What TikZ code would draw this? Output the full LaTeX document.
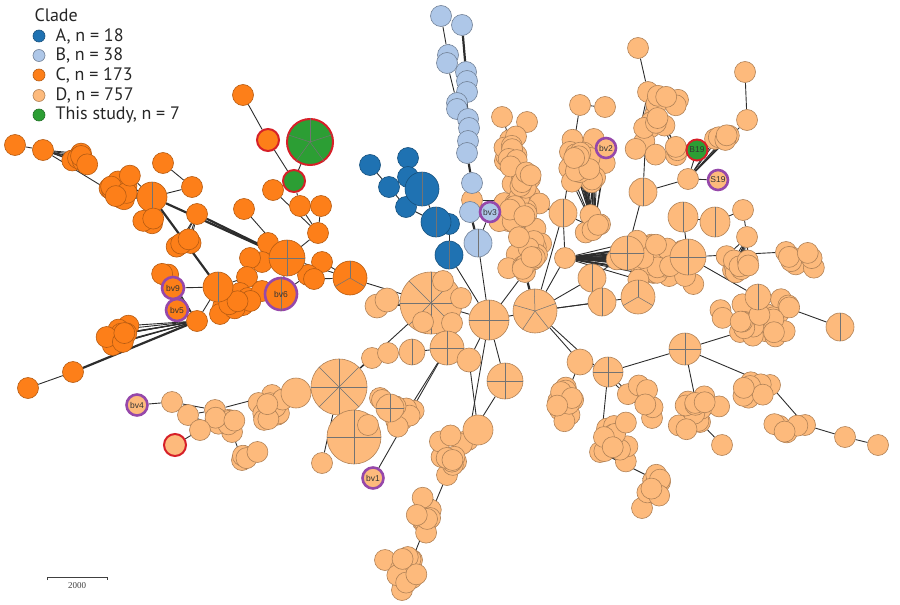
\documentclass[tikz,border=0pt]{standalone}
\usepackage{fontspec}
\setmainfont{PT Sans}
\newfontfamily\lblfont{Liberation Sans}
\newfontfamily\barfont{Liberation Serif}
\pgfdeclarelayer{bg}
\pgfsetlayers{bg,main}
\definecolor{cA}{RGB}{31,114,178}
\definecolor{cB}{RGB}{174,199,232}
\definecolor{cC}{RGB}{253,127,25}
\definecolor{cD}{RGB}{253,186,124}
\definecolor{cG}{RGB}{44,158,52}
\definecolor{cR}{RGB}{214,32,40}
\definecolor{cP}{RGB}{150,72,170}
\definecolor{edgec}{RGB}{45,45,45}
\tikzset{
  nd/.style={circle,inner sep=0pt,line width=0.6pt,minimum size={2*#1*1pt}},
  nd/.default=10.5,
  A/.style={nd=#1,fill=cA,draw=cA!70!black},A/.default=10.5,
  B/.style={nd=#1,fill=cB,draw=cB!65!black},B/.default=10.5,
  C/.style={nd=#1,fill=cC,draw=cC!72!black},C/.default=10.5,
  D/.style={nd=#1,fill=cD,draw=cD!70!black},D/.default=10.5,
  G/.style={nd=#1,fill=cG,draw=cG!70!black},G/.default=10.5,
  ring/.style={draw=cP,line width=2.6pt},
  redring/.style={draw=cR,line width=2pt},
  lbl/.style={font=\lblfont\fontsize{8.5}{9}\selectfont,text=black!80},
  edge/.style={draw=edgec,line width=0.9pt},
  tedge/.style={draw=edgec,line width=2.2pt},
  wedge/.style={draw=black!55,line width=0.5pt},
  legtext/.style={anchor=west,font=\fontsize{18}{18}\selectfont,text=black!85},
}
\newcommand\wedges[3]{%
  \foreach \k in {1,...,#2}{\pgfmathtruncatemacro\ang{#3+360*\k/#2}%
    \draw[wedge] (#1.center) -- (#1.\ang);}}
\newcommand\blob[9]{% style, prefix, cx, cy, sx, sy, angle, n, link
  \foreach \i in {1,...,#8}{%
    \pgfmathsetmacro\bu{#5*(rand+rand)/2}%
    \pgfmathsetmacro\bv{#6*(rand+rand)/2}%
    \pgfmathsetmacro\px{#3+\bu*cos(#7)-\bv*sin(#7)}%
    \pgfmathsetmacro\py{#4+\bu*sin(#7)+\bv*cos(#7)}%
    \node[#1] (#2\i) at (\px,\py) {};
  }
  \begin{pgfonlayer}{bg}
  \foreach \i in {1,...,#8}{\draw[edge] (#2\i) -- (#9);}
  \end{pgfonlayer}}
\begin{document}
\begin{tikzpicture}[x=1pt,y=-1pt]
\useasboundingbox (0,0) rectangle (900,605);
\pgfmathsetseed{4242}

% ---------- D root nodes ----------
\foreach \n/\x/\y in {u1/565/258,u4/594/228,u6/525/272,
  u7/520/200,u8/510/140,u9/502/117,u9b/527/122,u10/605/107,u11/580/105,u12/638/48,u13/648/92,
  u15/688/179,u16/745/72,u17/747/120,u18/743/210,u18b/747/237,u19/786/252,
  u21/740/332,u22/845/437,u23/878/445,u24/805/425,u25/722/445,u26/660/482,u27/642/508,
  u28/600/452,u29/560/410,u30/468/440,u32/428/520,u33/412/560,u34/402/590,
  u35/385/560,u36/322/463,u37/402/420,u38/380/398,u39/242/460,u40/272/395,u41/215/410,
  u42/232/432,u43/700/422,u44/652/418,u45/770/385}
  {\node[D] (\n) at (\x,\y) {};}
\node[D] (u31) at (447,475) {};

% ---------- D blobs ----------
\blob{D}{bA}{510}{150}{14}{25}{0}{10}{u8}
\blob{D}{bB}{522}{200}{26}{40}{0}{30}{u7}
\blob{D}{bC}{527}{255}{22}{20}{0}{14}{u6}
\blob{D}{bD}{584}{158}{24}{28}{0}{24}{u4}
\blob{D}{bE}{595}{225}{12}{12}{0}{5}{u4}
\blob{D}{bF}{655}{132}{30}{40}{0}{18}{u13}
\blob{D}{bG}{725}{140}{15}{12}{0}{5}{u15}
\blob{D}{bM}{660}{258}{50}{28}{0}{34}{u1}
\blob{D}{bK}{742}{266}{25}{12}{0}{9}{u18b}
\blob{D}{bL}{798}{262}{18}{14}{0}{7}{u19}
\blob{D}{bN}{772}{318}{66}{25}{0}{24}{u21}
\blob{D}{bP}{565}{402}{13}{26}{0}{11}{u29}
\blob{D}{bQ}{612}{442}{20}{26}{0}{13}{u28}
\blob{D}{bR}{650}{490}{15}{18}{0}{7}{u26}
\blob{D}{bS}{702}{410}{26}{24}{0}{13}{u43}
\blob{D}{bT}{748}{395}{22}{18}{0}{8}{u45}
\blob{D}{bU}{785}{425}{18}{12}{0}{5}{u24}
\blob{D}{bV}{452}{455}{14}{24}{0}{11}{u30}
\blob{D}{bW}{427}{512}{11}{26}{0}{9}{u32}
\blob{D}{bX}{408}{568}{13}{18}{0}{9}{u33}
\blob{D}{bY}{405}{410}{14}{18}{0}{8}{u37}
\blob{D}{bZ}{268}{410}{24}{17}{0}{13}{u40}
\blob{D}{b3}{225}{418}{16}{11}{0}{8}{u41}
\blob{D}{b4}{247}{455}{11}{8}{0}{4}{u39}
\blob{D}{b5}{640}{395}{15}{15}{0}{6}{u44}

% ---------- D hubs ----------
\node[D=31] (h1) at (431,303) {}; \wedges{h1}{8}{0}
\node[D] (i1) at (443,281) {};
\node[D] (i2) at (461,298) {};
\node[D] (i3) at (423,322) {};
\node[D] (i4) at (452,323) {};
\node[D=12] (h10b) at (377,306) {};
\node[D=12] (h10) at (387,300) {};
\node[D=20] (h2) at (489,320) {}; \wedges{h2}{4}{0}
\node[D=22] (h3) at (535,311) {}; \wedges{h3}{5}{20}
\node[D=14] (p1) at (592,278) {}; \wedges{p1}{2}{90}
\node[D=14] (p2) at (602,302) {}; \wedges{p2}{2}{90}
\node[D=17] (p3) at (638,297) {}; \wedges{p3}{3}{90}
\node[D=17] (p4) at (627,253) {}; \wedges{p4}{4}{0}
\node[D=18] (p5) at (688,257) {}; \wedges{p5}{4}{0}
\node[D=15] (p6) at (715,222) {}; \wedges{p6}{2}{90}
\node[D=15] (h15) at (683,217) {}; \wedges{h15}{2}{90}
\node[D=14] (p7) at (643,192) {}; \wedges{p7}{2}{90}
\node[D=14] (p8) at (563,213) {}; \wedges{p8}{2}{90}
\node[D=13] (p9) at (758,297) {}; \wedges{p9}{2}{90}
\node[D=14] (p10) at (840,327) {}; \wedges{p10}{2}{90}
\node[D=17] (h4) at (447,348) {}; \wedges{h4}{4}{0}
\node[D=13] (h5) at (412,352) {}; \wedges{h5}{2}{90}
\node[D=12] (h6) at (469,360) {};
\node[D] (z1) at (372,358) {};
\node[D] (z2) at (388,353) {};
\node[D=28] (h7) at (339,387) {}; \wedges{h7}{8}{0}
\node[D=15] (h9) at (296,393) {};
\node[D=27] (h8) at (354,437) {}; \wedges{h8}{4}{0}
\node[D] (h8b) at (368,425) {};
\node[D] (z3) at (382,400) {};
\node[D=14] (z4) at (390,408) {}; \wedges{z4}{4}{0}
\node[D=18] (h11) at (505,381) {}; \wedges{h11}{4}{0}
\node[D=13] (h12) at (580,362) {};
\node[D=15] (h13) at (608,372) {}; \wedges{h13}{4}{0}
\node[D=16] (h14) at (685,349) {}; \wedges{h14}{4}{0}
\node[D=15] (z5) at (478,430) {};
\node[D] (d1) at (172,402) {};
\node[D] (d2) at (188,415) {};
\node[D] (d3) at (200,430) {};
\node[D] (z6) at (472,200) {};

% ---------- clade B ----------
\foreach \n/\x/\y in {b1/441/16,b2/462/25,b3/448/55,b4/447/63,b5/466/72,b6/467/81,b7/467/92,
  b8/457/103,b9/457/109,b10/468/119,b11/469/128,b12/468/141,b13/467/153,b14/472/183,b15/470/212}
  {\node[B] (\n) at (\x,\y) {};}
\node[B=14] (b16) at (478,243) {}; \wedges{b16}{2}{90}

% ---------- clade A ----------
\foreach \n/\x/\y in {a1/370/165,a2/389/187,a3/408/158,a4/408/177,a6/406/207,a8/449/224}
  {\node[A] (\n) at (\x,\y) {};}
\node[A=17] (a5) at (422,189) {}; \wedges{a5}{2}{90}
\node[A=15] (a7) at (436,222) {}; \wedges{a7}{2}{90}
\node[A=14] (a9) at (449,255) {}; \wedges{a9}{2}{90}

% ---------- clade C ----------
\foreach \n/\x/\y in {c1/15/145,c2/43/150,c3/163/163,c4/192/187,c5/197/214,c7/243/95,
  c9/244/209,c10/273/190,c11/300/206,c12/321/206,c13/318/233,c14/268/243,c15/262/262,
  c16/250/258,c17/322/262,c20/247/277,c21/240/293,c22/248/298,c23/223/307,c24/220/314,
  c25/197/321,c26/308/275,c27/314/279,c28/262/291,c29/28/388,c30/73/372}
  {\node[C] (\n) at (\x,\y) {};}
\node[C=15] (cbig) at (152,197) {}; \wedges{cbig}{2}{90}
\blob{C}{cA}{78}{160}{14}{8}{0}{6}{c2}
\blob{C}{cB}{117}{188}{18}{16}{0}{13}{cbig}
\blob{C}{cC}{153}{220}{10}{4}{0}{3}{cbig}
\blob{C}{cD}{183}{243}{10}{5}{0}{4}{c5}
\blob{C}{cE}{238}{303}{14}{10}{0}{6}{c23}
\blob{C}{cF}{118}{338}{20}{12}{-25}{9}{c25}
\blob{C}{cH}{163}{276}{7}{4}{0}{3}{c25}
\node[C=18] (cx) at (287,258) {}; \wedges{cx}{4}{0}
\node[C=17] (cp3) at (350,278) {}; \wedges{cp3}{3}{90}
\node[C=15] (cpie) at (218,287) {}; \wedges{cpie}{2}{90}

% ---------- special nodes ----------
\node[C=11,redring] (c8) at (268,140) {};
\node[G=23,redring] (g1) at (310,142) {}; \wedges{g1}{5}{18}
\node[G=11,redring] (g2) at (294,181) {};
\node[D=11,redring] (dred) at (175,445) {};
\node[C=11,ring] (bv9) at (173,288) {};
\node[C=11,ring] (bv5) at (177,310) {};
\node[C=16,ring] (bv6) at (281,294) {};
\draw[wedge] (bv6.90) -- (bv6.270);
\node[B=10,ring] (bv3) at (490,212) {};
\node[D=10,ring] (bv2) at (606,148) {};
\node[G=10.5,redring] (B19) at (697,150) {};
\node[D=10,ring] (S19) at (718,180) {};
\node[D=10.5,ring] (bv4) at (137,405) {};
\node[D=10.5,ring] (bv1) at (373,478) {};
\foreach \n/\t in {bv9/bv9,bv5/bv5,bv6/bv6,bv3/bv3,bv2/bv2,B19/B19,S19/S19,bv4/bv4,bv1/bv1}
  {\node[lbl] at (\n) {\t};}

% ---------- edges ----------
\begin{pgfonlayer}{bg}
\foreach \p/\q in {h1/h2,h2/h3,h1/h10,h1/cp3,h1/h4,h1/h7,h4/h5,h5/z2,z2/z1,h7/z1,h4/h6,
  h2/h6,h3/h12,h12/h13,h13/h14,
  h3/u1,h3/p1,h3/p2,h3/p3,p1/p4,p4/p5,p5/h15,h15/p6,p6/u18,u18/u18b,p5/p9,p9/p10,
  h14/u21,u21/p9,h3/p8,p8/u1,p8/u4,u4/bv2,p4/p7,p7/u15,u15/B19,u15/S19,u15/u17,u17/u16,
  p7/u13,u13/u12,u7/u8,u8/u9,u8/u9b,p8/u11,u11/u10,p5/u19,h2/u6,u7/z6,u1/p4,
  h14/u45,u45/u24,u24/u22,u22/u23,h14/u43,u43/u25,
  h13/u28,u28/u26,u26/u27,h12/u29,h11/u30,h2/h11,h2/u30,u30/u31,u31/u32,u32/u33,u33/u34,
  u33/u35,h7/u36,h7/h8,h8/h8b,h4/u37,u37/u38,u38/z3,z3/z4,h9/u40,u40/u41,u41/d1,d1/bv4,
  u41/d2,d2/u42,u42/d3,d3/dred,u42/u39,h6/z5,z5/u30,h4/bv1,h3/u44,u44/h13,
  b1/b3,b3/b4,b4/b8,b5/b6,b6/b7,b7/b10,b8/b9,b9/b13,b10/b11,b11/b12,b12/b13,b14/b15,
  bv3/b16,b16/h2,
  a1/a2,a3/a4,a4/a5,a2/a6,a5/a7,a6/a7,a7/a8,a8/a9,a9/h2,
  c1/c2,c3/c4,c4/cbig,c7/c8,c8/g2,g1/g2,g2/c11,c11/c13,c10/c13,c12/c13,c9/cx,c13/cx,c14/cx,
  c15/cx,c16/cx,cx/cp3,cx/bv6,c17/cp3,c26/bv6,c27/cp3,bv6/c28,c28/cpie,cpie/bv9,bv9/bv5,
  cpie/c20,cpie/c21,c22/bv6,c23/cpie,c24/cpie,c25/cpie,c29/c30,c2/cB1}
  {\draw[edge] (\p) -- (\q);}
\foreach \p/\q in {b2/b5,b13/b14,b15/b16,cbig/cx,c5/cx,c30/c25,cbig/cpie,c25/bv5,h7/u40,h1/h10b,
  u7/u6,h7/h9,u6/h3,p8/u7}
  {\draw[tedge] (\p) -- (\q);}
\end{pgfonlayer}

% ---------- legend ----------
\node[legtext] (ltitle) at (31,15) {Clade};
\node[A=6] (lA) at (39,36) {};   \node[legtext] (tA) at (52,36) {A, n = 18};
\node[B=6] (lB) at (39,55.5) {}; \node[legtext] (tB) at (52,55.5) {B, n = 38};
\node[C=6] (lC) at (39,75) {};   \node[legtext] (tC) at (52,75) {C, n = 173};
\node[D=6] (lD) at (39,95.5) {}; \node[legtext] (tD) at (52,95.5) {D, n = 757};
\node[G=6] (lG) at (39,115) {};  \node[legtext] (tG) at (52,115) {This study, n = 7};

% ---------- scale bar ----------
\coordinate (s1) at (47,577);
\coordinate (s2) at (107,577);
\draw[line width=0.9pt,black!75] (s1) ++(0,3) -- (s1) -- (s2) -- ++(0,3);
\node[font=\barfont\fontsize{9}{9}\selectfont,text=black!75] (slabel) at (77,586) {2000};
\end{tikzpicture}
\end{document}
